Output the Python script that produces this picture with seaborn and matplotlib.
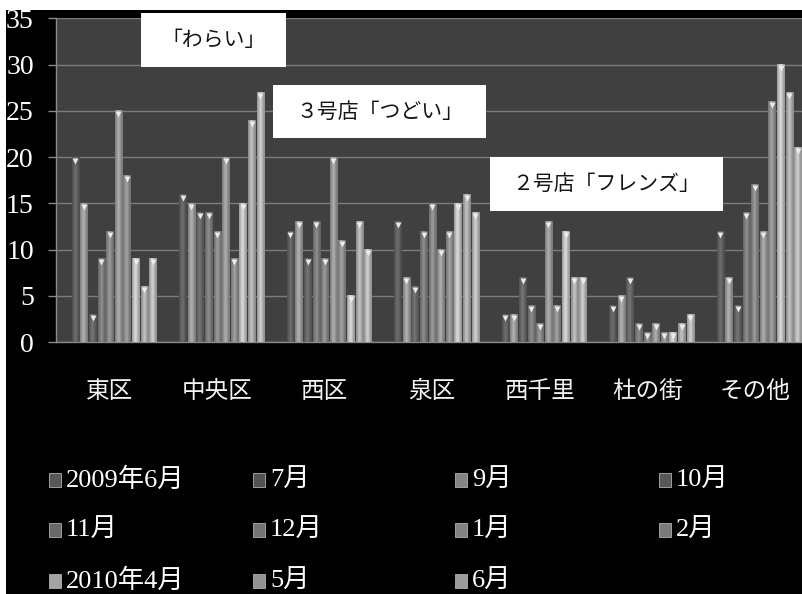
import numpy as np
import pandas as pd
import matplotlib
matplotlib.use("Agg")
import matplotlib.pyplot as plt
import matplotlib.transforms as mtransforms
from matplotlib.patches import Rectangle
from matplotlib.colors import to_rgb
import seaborn as sns

# ---- data -------------------------------------------------------------
areas = ["東区", "中央区", "西区", "泉区", "西千里", "杜の街", "その他"]
months = ["2009年6月", "7月", "9月", "10月", "11月", "12月",
          "1月", "2月", "2010年4月", "5月", "6月"]

jun09 = [0, 0, 0, 0, 0, 0, 0]
jul09 = [20, 16, 12, 13, 3, 4, 12]
sep09 = [15, 15, 13, 7, 3, 5, 7]
oct09 = [3, 14, 9, 6, 7, 7, 4]
nov09 = [9, 14, 13, 12, 4, 2, 14]
dec09 = [12, 12, 9, 15, 2, 1, 17]
jan10 = [25, 20, 20, 10, 13, 2, 12]
feb10 = [18, 9, 11, 12, 4, 1, 26]
apr10 = [9, 15, 5, 15, 12, 1, 30]
may10 = [6, 24, 13, 16, 7, 2, 27]
jun10 = [9, 27, 10, 14, 7, 3, 21]

series = [jun09, jul09, sep09, oct09, nov09, dec09,
          jan10, feb10, apr10, may10, jun10]

y_ticks = [0, 5, 10, 15, 20, 25, 30, 35]

notes = ["「わらい」", "３号店「つどい」", "２号店「フレンズ」"]

palette = ["#585858", "#525252", "#858585", "#585858", "#6a6a6a", "#747474",
           "#828282", "#7a7a7a", "#a4a4a4", "#929292", "#9c9c9c"]

df = pd.DataFrame(
    [(a, m, v) for m, vals in zip(months, series) for a, v in zip(areas, vals)],
    columns=["area", "month", "count"],
)

# ---- figure ------------------------------------------------------------
W, H = 803, 594
sns.set_theme(style="dark")
plt.rcParams["font.family"] = ["Noto Sans CJK JP", "DejaVu Sans"]

fig = plt.figure(figsize=(W / 100, H / 100), dpi=100, facecolor="white")
fig.add_artist(Rectangle((6 / W, 0), 1, (H - 10) / H, transform=fig.transFigure,
                         facecolor="black", edgecolor="none", zorder=-10))


def fx(px):
    return px / W


def fy(py):
    return 1 - py / H


ax = fig.add_axes([fx(56), fy(342), 752.5 / W, (342 - 18.3) / H])
ax.set_facecolor("#404040")

sns.barplot(data=df, x="area", y="count", hue="month", order=areas,
            hue_order=months, palette=palette, width=0.88, gap=0.16,
            saturation=1, linewidth=0, legend=False, ax=ax, zorder=2)

# cylinder-like shading and a light cap on each bar
t = np.linspace(0, 1, 40)
shade = 0.92 + 0.4 * np.exp(-((t - 0.45) / 0.3) ** 2)
tops_x, tops_y = [], []
for p in ax.patches:
    h = p.get_height()
    if not h or h <= 0:
        continue
    x0 = p.get_x()
    w = p.get_width()
    base = np.array(to_rgb(p.get_facecolor()))
    img = np.clip(base[None, None, :] * shade[None, :, None], 0, 1)
    ax.imshow(img, extent=[x0, x0 + w, 0, h], aspect="auto",
              interpolation="bilinear", zorder=3)
    tops_x.append(x0 + w / 2)
    tops_y.append(h)

cap_tr = mtransforms.offset_copy(ax.transData, fig=fig, y=-3.5, units="dots")
ax.scatter(tops_x, tops_y, marker="v", s=18, color="#ececec",
           linewidths=0, transform=cap_tr, zorder=4)

ax.set_xlim(-0.5, len(areas) - 0.5)
ax.set_ylim(0, 35)
ax.set_yticks(y_ticks)
ax.set_yticklabels([str(v) for v in y_ticks],
                   family=["Liberation Serif", "DejaVu Serif"], fontsize=20,
                   color="white")
ax.yaxis.grid(True, color="#7c7c7c", linewidth=1)
ax.xaxis.grid(False)
ax.set_axisbelow(True)
ax.set_xlabel("")
ax.set_ylabel("")

ax.set_xticks(range(len(areas)))
ax.set_xticklabels(areas, fontsize=17, color="#f2f2f2")
ax.set_xticks(np.arange(-0.5, len(areas), 1.0), minor=True)
ax.tick_params(axis="x", which="major", length=0, pad=27)
ax.tick_params(axis="x", which="minor", length=7.5, width=1, color="#8a8a8a",
               direction="out")
ax.tick_params(axis="y", which="major", length=6, width=1, color="#8a8a8a",
               direction="out", pad=10, left=True)

for side in ["top", "right"]:
    ax.spines[side].set_visible(False)
for side in ["left", "bottom"]:
    ax.spines[side].set_visible(True)
    ax.spines[side].set_color("#8a8a8a")
    ax.spines[side].set_linewidth(1)

# ---- annotation boxes --------------------------------------------------
boxes = [(141, 13, 286, 67), (273, 85, 486, 138), (490, 157, 723, 211)]
for (x0, y0, x1, y1), label in zip(boxes, notes):
    fig.add_artist(Rectangle((fx(x0), fy(y1)), (x1 - x0) / W, (y1 - y0) / H,
                             transform=fig.transFigure, facecolor="white",
                             edgecolor="none", zorder=10))
    fig.text(fx((x0 + x1) / 2), fy((y0 + y1) / 2), label, ha="center",
             va="center", fontsize=15, color="#151515", zorder=11)

# ---- legend ------------------------------------------------------------
col_x = [49, 253, 455, 659]
row_y = [480, 530, 581]
for i, (m, c) in enumerate(zip(months, palette)):
    cx = col_x[i % 4]
    cy = row_y[i // 4]
    fig.add_artist(Rectangle((fx(cx), fy(cy + 7)), 12 / W, 14 / H,
                             transform=fig.transFigure, facecolor=c,
                             edgecolor="#b0b0b0", linewidth=0.6, zorder=5))
    fig.text(fx(cx + 17), fy(cy), m, ha="left", va="center", fontsize=19,
             color="white", family=["Liberation Serif", "Noto Sans CJK JP"])

fig.savefig("out.png", dpi=100, facecolor=fig.get_facecolor())
